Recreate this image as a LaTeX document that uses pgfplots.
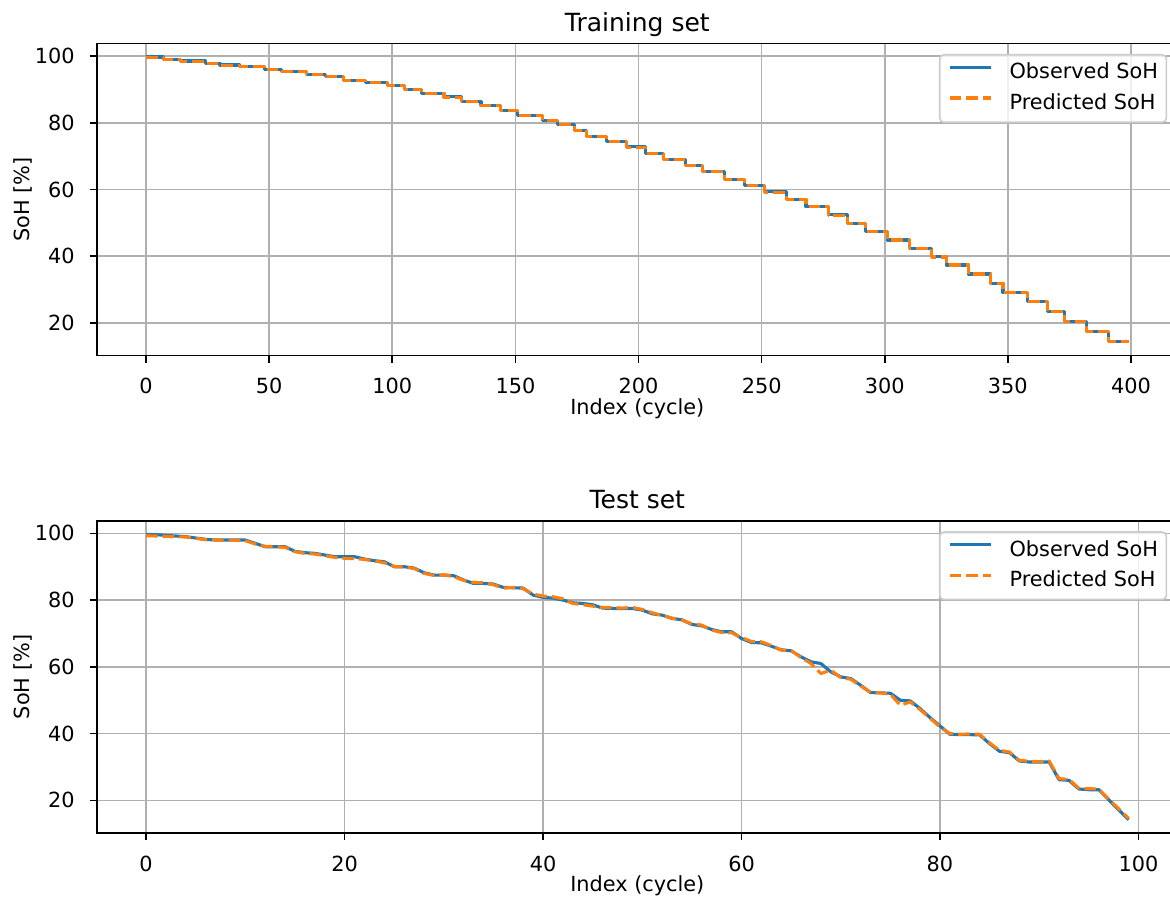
\documentclass[border=0pt]{standalone}
\usepackage{fontspec}
\setmainfont{DejaVu Sans}
\usepackage{pgfplots}
\pgfplotsset{compat=1.18}
\definecolor{mplblue}{HTML}{1F77B4}
\definecolor{mplorange}{HTML}{FF7F0E}
\definecolor{gridgray}{HTML}{B0B0B0}
\definecolor{legframe}{HTML}{CCCCCC}

\pgfplotsset{
  mplstyle/.style={
    scale only axis, width=518.7pt, height=149.8pt,
    ymin=10.25, ymax=103.75, ytick={20,40,60,80,100},
    grid=major, major grid style={gridgray, line width=0.8pt},
    axis line style={line width=0.8pt},
    tick align=outside, major tick length=3.5pt,
    every tick/.style={black, line width=0.8pt},
    xtick pos=left, ytick pos=left,
    /pgf/number format/assume math mode=true,
    xticklabel style={anchor=north, inner sep=0pt, yshift=-7.3pt, font=\fontsize{10}{12}\selectfont},
    yticklabel style={anchor=east, inner sep=0pt, xshift=-7pt, font=\fontsize{10}{12}\selectfont},
    every axis x label/.style={at={(axis description cs:0.5,0)}, anchor=base, yshift=-28.3pt, inner sep=0pt, font=\fontsize{10}{12}\selectfont},
    every axis y label/.style={at={(axis description cs:0,0.5)}, xshift=-32.16pt, rotate=90, anchor=base, inner sep=0pt, font=\fontsize{10}{12}\selectfont},
    every axis title/.style={at={(axis description cs:0.5,1)}, anchor=base, yshift=6pt, inner sep=0pt, font=\fontsize{12}{14.4}\selectfont},
    xlabel={Index (cycle)}, ylabel={SoH [\%]},
    legend cell align=left,
    legend image code/.code={\draw[#1] (0pt,2.8pt) -- (20pt,2.8pt);},
    legend style={at={(axis description cs:1,1)}, anchor=north east, xshift=-5pt, yshift=-5pt,
      draw=legframe, line width=0.8pt, rounded corners=2pt, fill=white, fill opacity=0.8, text opacity=1,
      inner xsep=4pt, inner ysep=4pt, row sep=5pt,
      font=\fontsize{10}{12}\selectfont,
      nodes={inner sep=0pt, text height=7.6pt, text depth=2.1pt},
      /tikz/every odd column/.append style={column sep=8pt}},
  },
  obs/.style={mplblue, line width=1.5pt, line join=round},
  pred/.style={mplorange, line width=1.5pt, line join=round, dash pattern=on 5.55pt off 2.4pt},
}

\begin{document}
\begin{tikzpicture}
\begin{axis}[mplstyle, at={(0,229.1pt)}, anchor=south west,
  xmin=-19.95, xmax=418.95, xtick={0,50,...,400}, title={Training set}]
\addplot[obs, const plot] coordinates {
(0,99.7) (7,99.0) (14,98.5) (24,97.8) (30,97.3) (38,96.8) (48,96.0) (55,95.3) (65,94.6) (73,93.8)
(80,92.8) (89,92.0) (98,91.3) (105,90.0) (112,88.8) (121,87.8) (128,86.3) (136,85.3) (144,83.8) (151,82.3)
(161,80.8) (167,79.5) (174,77.8) (179,75.8) (187,74.3) (195,72.8) (203,70.8) (210,69.1) (219,67.3) (226,65.3)
(235,63.1) (243,61.1) (251,59.3) (260,56.9) (268,54.9) (277,52.4) (285,49.9) (292,47.4) (301,44.9) (310,42.4)
(319,39.9) (325,37.4) (334,34.7) (343,31.9) (348,29.1) (358,26.4) (366,23.4) (373,20.4) (382,17.4) (391,14.5)
(399,14.5)};
\addlegendentry{Observed SoH}
\addplot[pred, const plot] coordinates {
(0,99.5) (7,99.0) (14,98.4) (24,97.8) (30,97.2) (38,96.8) (48,96.0) (55,95.3) (65,94.5) (73,93.8)
(80,92.8) (89,92.0) (98,91.2) (105,90.0) (112,88.8) (121,87.7) (128,86.3) (136,85.2) (144,83.8) (151,82.3)
(161,80.8) (167,79.4) (174,77.8) (179,75.8) (187,74.3) (195,72.7) (203,70.8) (210,69.0) (219,67.3) (226,65.3)
(235,63.1) (243,61.1) (251,59.2) (260,56.9) (268,54.9) (277,52.3) (285,49.9) (292,47.4) (301,44.9) (310,42.4)
(319,39.8) (325,37.4) (334,34.7) (343,31.9) (348,29.1) (358,26.4) (366,23.4) (373,20.4) (382,17.4) (391,14.6)
(399,14.6)};
\addlegendentry{Predicted SoH}
\end{axis}

\begin{axis}[mplstyle, at={(0,0)}, anchor=south west,
  xmin=-4.95, xmax=103.95, xtick={0,20,...,100}, title={Test set}]
\addplot[obs] coordinates {
(0,99.7) (1,99.6) (2,99.4) (3,99.2) (4,99.0) (5,98.6) (6,98.2) (7,98.0) (8,98.0) (9,98.0)
(10,98.0) (11,97.0) (12,96.0) (13,96.0) (14,96.0) (15,94.6) (16,94.2) (17,94.0) (18,93.5) (19,93.0)
(20,93.0) (21,93.0) (22,92.3) (23,91.8) (24,91.5) (25,90.0) (26,90.0) (27,89.6) (28,88.2) (29,87.5)
(30,87.5) (31,87.3) (32,86.0) (33,85.0) (34,85.0) (35,84.8) (36,83.8) (37,83.7) (38,83.6) (39,81.5)
(40,80.8) (41,80.6) (42,80.0) (43,79.2) (44,79.0) (45,78.6) (46,77.6) (47,77.5) (48,77.5) (49,77.5)
(50,77.0) (51,75.9) (52,75.5) (53,74.5) (54,74.1) (55,72.7) (56,72.3) (57,71.2) (58,70.5) (59,70.5)
(60,68.5) (61,67.3) (62,67.2) (63,66.2) (64,65.1) (65,64.8) (66,63.0) (67,61.5) (68,61.0) (69,58.5)
(70,57.0) (71,56.5) (72,54.5) (73,52.3) (74,52.2) (75,52.1) (76,50.0) (77,49.8) (78,47.5) (79,44.8)
(80,42.3) (81,39.8) (82,39.7) (83,39.7) (84,39.6) (85,37.0) (86,34.7) (87,34.3) (88,31.8) (89,31.5)
(90,31.5) (91,31.5) (92,26.2) (93,26.0) (94,23.4) (95,23.2) (96,23.2) (97,20.2) (98,17.2) (99,14.2)};
\addlegendentry{Observed SoH}
\addplot[pred] coordinates {
(0,99.3) (1,99.2) (2,99.1) (3,99.0) (4,98.9) (5,98.5) (6,98.1) (7,98.0) (8,97.9) (9,97.9)
(10,97.8) (11,96.8) (12,96.1) (13,96.0) (14,95.8) (15,94.5) (16,94.0) (17,93.8) (18,93.3) (19,92.8)
(20,92.5) (21,92.4) (22,92.2) (23,91.7) (24,91.2) (25,90.1) (26,89.9) (27,89.5) (28,88.0) (29,87.4)
(30,87.6) (31,87.0) (32,85.9) (33,85.3) (34,85.2) (35,84.6) (36,83.6) (37,83.8) (38,83.4) (39,81.8)
(40,81.2) (41,81.0) (42,80.4) (43,79.0) (44,78.6) (45,78.2) (46,77.8) (47,77.7) (48,77.6) (49,77.8)
(50,77.2) (51,76.2) (52,75.4) (53,74.6) (54,74.0) (55,72.9) (56,72.5) (57,71.0) (58,70.3) (59,70.2)
(60,68.8) (61,67.6) (62,67.5) (63,66.4) (64,65.0) (65,64.9) (66,62.8) (67,61.0) (68,58.0) (69,59.0)
(70,56.8) (71,56.3) (72,54.3) (73,52.4) (74,52.2) (75,51.8) (76,48.5) (77,49.5) (78,47.2) (79,44.6)
(80,42.0) (81,40.0) (82,39.8) (83,39.9) (84,39.8) (85,37.2) (86,35.0) (87,34.5) (88,32.0) (89,31.7)
(90,31.6) (91,31.8) (92,26.5) (93,26.3) (94,23.6) (95,23.5) (96,23.4) (97,20.4) (98,17.5) (99,14.6)};
\addlegendentry{Predicted SoH}
\end{axis}
\pgfresetboundingbox
\path[use as bounding box] (-46.56pt,-30.9pt) rectangle (515.04pt,399.8pt);
\end{tikzpicture}
\end{document}
